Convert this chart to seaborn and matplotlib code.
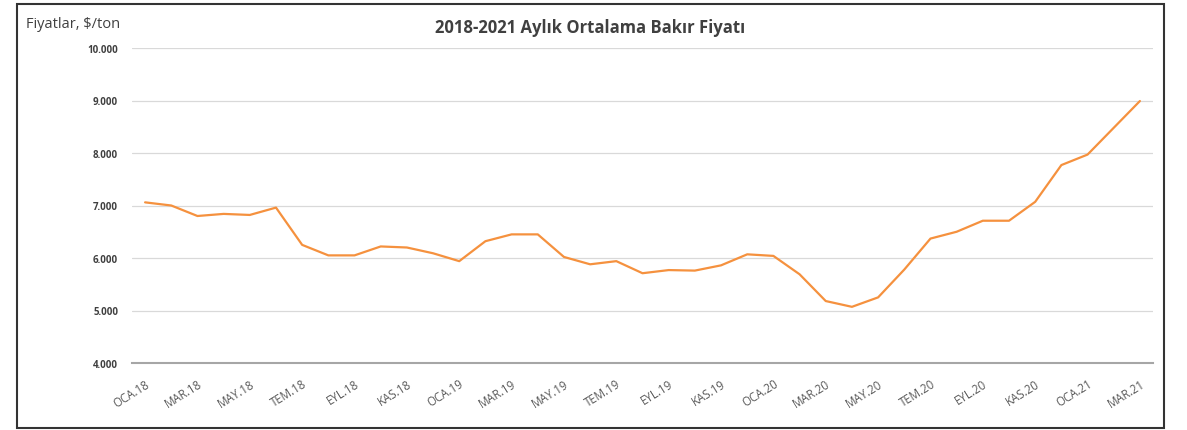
import numpy as np
import matplotlib
matplotlib.use('Agg')
import matplotlib.pyplot as plt
import seaborn as sns
import pandas as pd
from matplotlib.patches import Rectangle

# Aylık ortalama bakır fiyatı, $/ton (Ocak 2018 - Mart 2021)
months = ['OCA', 'ŞUB', 'MAR', 'NİS', 'MAY', 'HAZ', 'TEM', 'AĞU', 'EYL', 'EKİ', 'KAS', 'ARA']
years = ['18', '19', '20', '21']
labels = [m + '.' + y for y in years for m in months][:39]

prices = [7060, 7000, 6800, 6840, 6820, 6960, 6250, 6050, 6050, 6220, 6200, 6090,
          5940, 6320, 6450, 6450, 6020, 5880, 5940, 5710, 5770, 5760, 5860, 6070,
          6040, 5690, 5180, 5070, 5250, 5780, 6370, 6500, 6710, 6710, 7070, 7770,
          7970, 8480, 8990]

yticks = [4000, 5000, 6000, 7000, 8000, 9000, 10000]
ytick_labels = ['4.000', '5.000', '6.000', '7.000', '8.000', '9.000', '10.000']

df = pd.DataFrame({'idx': np.arange(len(prices)), 'ay': labels, 'fiyat': prices})

sns.set_style('white')
plt.rcParams['font.family'] = ['Open Sans', 'DejaVu Sans']

fig = plt.figure(figsize=(11.87, 4.31), dpi=100)
ax = fig.add_axes([132 / 1187, 1 - 364 / 431, (1153 - 132) / 1187, (364 - 49) / 431])

sns.lineplot(data=df, x='idx', y='fiyat', ax=ax, color='#f5913e', linewidth=1.6)

ax.set_xlim(-0.5, len(prices) - 0.5)
ax.set_ylim(4000, 10000)
ax.set_yticks(yticks)
ax.set_yticklabels(ytick_labels, fontsize=7, color='#404040', fontweight='bold')
ax.set_xticks(df['idx'][::2])
ax.set_xticklabels(df['ay'][::2], rotation=32, ha='right', rotation_mode='anchor',
                   fontsize=8.3, color='#595959')
ax.tick_params(axis='y', length=0, pad=10)
ax.tick_params(axis='x', length=0, pad=10)
ax.grid(axis='y', color='#d9d9d9', linewidth=0.9)
ax.set_axisbelow(True)
for s in ['top', 'right', 'left']:
    ax.spines[s].set_visible(False)
ax.spines['bottom'].set_color('#a6a6a6')
ax.spines['bottom'].set_linewidth(1.5)
ax.set_xlabel('')
ax.set_ylabel('')

fig.text(590 / 1187, 1 - 28 / 431, '2018-2021 Aylık Ortalama Bakır Fiyatı', ha='center', va='center',
         fontsize=12, fontweight='bold', color='#404040')
fig.text(26 / 1187, 1 - 25 / 431, 'Fiyatlar, $/ton', ha='left', va='center',
         fontsize=10.5, color='#404040')

fig.patches.append(Rectangle((17 / 1187, 2 / 431), (1164 - 17) / 1187, (426 - 2) / 431,
                             transform=fig.transFigure, fill=False, ec='#333333', lw=1.5))

fig.savefig('out.png', dpi=100)
